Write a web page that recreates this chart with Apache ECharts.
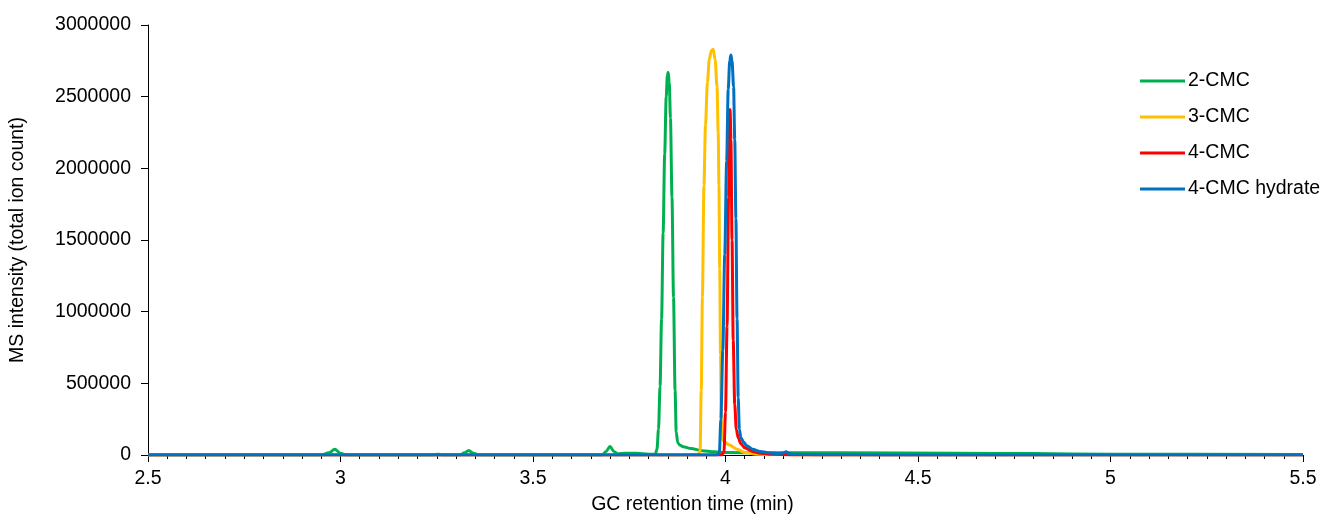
<!DOCTYPE html>
<html>
<head>
<meta charset="utf-8">
<script src="https://cdn.jsdelivr.net/npm/echarts@6/dist/echarts.min.js"></script>
<style>
html,body{margin:0;padding:0;background:#fff;}
#chart{width:1325px;height:520px;}
</style>
</head>
<body>
<div id="chart"></div>
<script>
// Series names
const seriesNames = ['2-CMC', '3-CMC', '4-CMC', '4-CMC hydrate'];

// 2-CMC (retention time in min, intensity)
const time2CMC = [2.5, 2.95, 2.97, 2.985, 3.0, 3.015, 3.24, 3.253, 3.265, 3.31, 3.322, 3.333, 3.345, 3.36, 3.68, 3.69, 3.70, 3.71, 3.72, 3.74, 3.77, 3.80, 3.814,
  3.818, 3.822, 3.826, 3.830, 3.834, 3.838, 3.842, 3.846, 3.849, 3.851, 3.854, 3.857, 3.861, 3.865, 3.869, 3.872, 3.876, 3.882, 3.89, 3.91, 3.94, 3.97, 4.00, 4.1, 4.3, 4.6, 4.8, 5.0, 5.5];
const int2CMC = [0, 0, 15000, 40000, 12000, 0, 0, 6000, 0, 0, 15000, 32000, 12000, 0, 0, 25000, 60000, 25000, 8000, 12000, 12000, 5000, 5000,
  8000, 40000, 180000, 480000, 950000, 1550000, 2100000, 2500000, 2650000, 2670000, 2600000, 2350000, 1800000, 1100000, 450000, 160000, 85000, 68000, 58000, 45000, 30000, 22000, 18000, 15000, 15000, 12000, 10000, 5000, 3000];

// 3-CMC
const time3CMC = [2.5, 3.90, 3.930, 3.934, 3.937, 3.940, 3.944, 3.948, 3.953, 3.958, 3.963, 3.968, 3.973, 3.978, 3.981, 3.983, 3.985, 3.987, 3.989, 3.991, 3.996, 4.01, 4.03, 4.05, 4.08, 4.12, 4.2, 5.5];
const int3CMC = [0, 0, 2000, 30000, 450000, 1100000, 1880000, 2300000, 2600000, 2760000, 2820000, 2830000, 2760000, 2570000, 2250000, 1880000, 1300000, 700000, 250000, 110000, 95000, 70000, 40000, 18000, 6000, 2000, 0, 0];

// 4-CMC
const time4CMC = [2.5, 3.99, 3.996, 4.000, 4.004, 4.008, 4.011, 4.012, 4.014, 4.017, 4.020, 4.024, 4.028, 4.033, 4.04, 4.05, 4.07, 4.09, 4.12, 4.2, 5.5];
const int4CMC = [0, 0, 20000, 300000, 900000, 1800000, 2350000, 2410000, 2200000, 1500000, 800000, 350000, 180000, 120000, 80000, 50000, 25000, 12000, 5000, 0, 0];

// 4-CMC hydrate
const time4CMCh = [2.5, 3.978, 3.984, 3.988, 3.993, 3.998, 4.003, 4.007, 4.011, 4.014, 4.017, 4.021, 4.024, 4.027, 4.030, 4.033, 4.036, 4.040, 4.047, 4.055, 4.07, 4.09, 4.11, 4.14, 4.15, 4.157, 4.165, 4.18, 4.25, 4.4, 5.5];
const int4CMCh = [0, 0, 15000, 250000, 730000, 1400000, 2050000, 2550000, 2750000, 2790000, 2750000, 2570000, 2200000, 1650000, 950000, 400000, 180000, 120000, 90000, 65000, 40000, 25000, 16000, 10000, 14000, 22000, 10000, 5000, 2000, 0, 0];

// Axis ticks
const xMin = 2.5, xMax = 5.5, xStep = 0.5;
const yMin = 0, yMax = 3000000, yStep = 500000;

const colors = ['#00B050', '#FFC000', '#FF0000', '#0070C0'];
const times = [time2CMC, time3CMC, time4CMC, time4CMCh];
const ints = [int2CMC, int3CMC, int4CMC, int4CMCh];

const FONT = '"Liberation Sans", Arial, sans-serif';
const chart = echarts.init(document.getElementById('chart'), null, {renderer: 'canvas'});

const series = seriesNames.map((name, k) => ({
  name: name,
  type: 'line',
  data: times[k].map((t, i) => [t, ints[k][i]]),
  showSymbol: false,
  symbol: 'none',
  smooth: 0.3,
  smoothMonotone: 'x',
  lineStyle: {color: colors[k], width: 3},
  itemStyle: {color: colors[k]},
  z: 2 + k
}));

chart.setOption({
  animation: false,
  backgroundColor: '#fff',
  color: colors,
  grid: {left: 148, right: 22, top: 25, bottom: 62, containLabel: false},
  legend: {
    orient: 'vertical',
    left: 1135,
    top: 66,
    icon: 'rect',
    itemWidth: 45,
    itemHeight: 3,
    itemGap: 16,
    textStyle: {fontFamily: FONT, fontSize: 19.5, color: '#000', lineHeight: 20, padding: [0, 0, 0, -2]},
    data: seriesNames
  },
  xAxis: {
    type: 'value',
    min: xMin, max: xMax, interval: xStep,
    name: 'GC retention time (min)',
    nameLocation: 'middle',
    nameGap: 40,
    nameTextStyle: {fontFamily: FONT, fontSize: 19.5, color: '#000', padding: [0, 66, 0, 0]},
    axisLine: {show: true, onZero: false, lineStyle: {color: '#000', width: 1}},
    axisTick: {show: true, inside: false, length: 7, lineStyle: {color: '#000', width: 1}},
    minorTick: {show: true, splitNumber: 10, length: 4, lineStyle: {color: '#000', width: 1}},
    axisLabel: {fontFamily: FONT, fontSize: 19.5, color: '#000', margin: 14},
    splitLine: {show: false},
    minorSplitLine: {show: false}
  },
  yAxis: {
    type: 'value',
    min: yMin, max: yMax, interval: yStep,
    name: 'MS intensity (total ion count)',
    nameLocation: 'middle',
    nameGap: 120,
    nameTextStyle: {fontFamily: FONT, fontSize: 19.5, color: '#000'},
    axisLine: {show: true, lineStyle: {color: '#000', width: 1}},
    axisTick: {show: true, inside: false, length: 7, lineStyle: {color: '#000', width: 1}},
    axisLabel: {fontFamily: FONT, fontSize: 19.5, color: '#000', margin: 17, formatter: v => String(v)},
    splitLine: {show: false}
  },
  series: series
});
</script>
</body>
</html>
